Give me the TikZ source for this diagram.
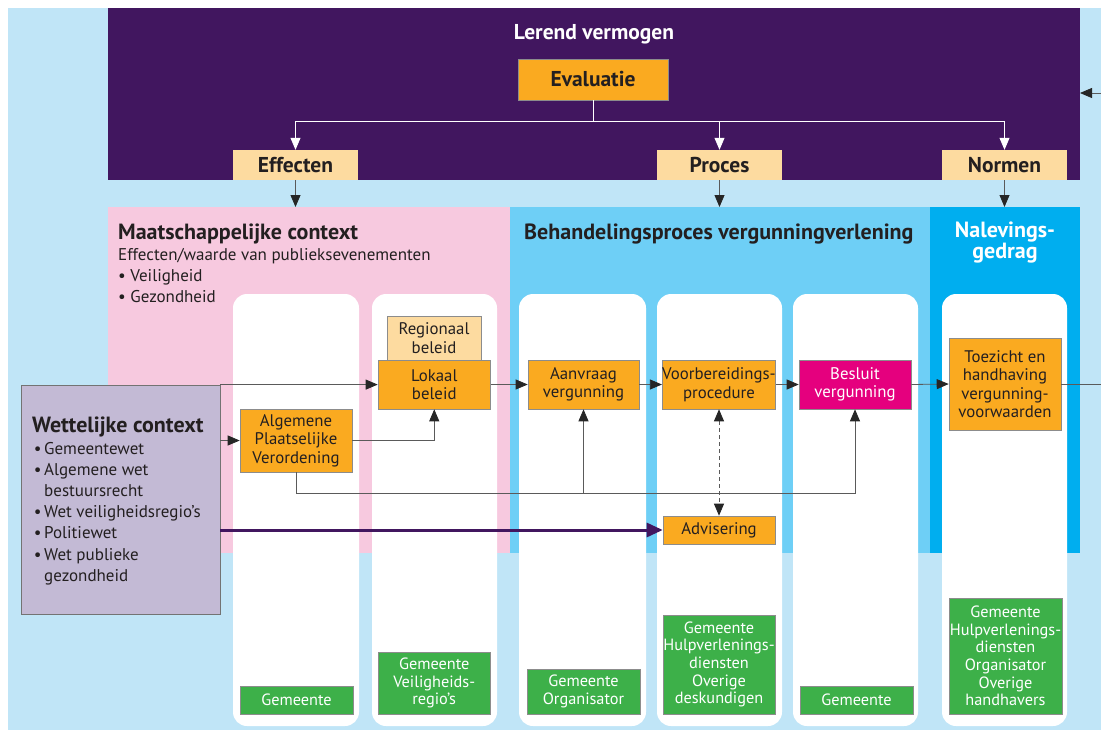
\documentclass[tikz,border=0pt]{standalone}
\usepackage{fontspec}
\setmainfont{PT Sans}
\usetikzlibrary{arrows.meta,calc}
\definecolor{bgblue}{RGB}{192,229,247}
\definecolor{purplec}{RGB}{65,22,95}
\definecolor{orangec}{RGB}{250,170,32}
\definecolor{peachc}{RGB}{253,219,160}
\definecolor{pinkc}{RGB}{247,201,223}
\definecolor{midblue}{RGB}{110,207,246}
\definecolor{brightblue}{RGB}{0,174,239}
\definecolor{lavc}{RGB}{195,186,213}
\definecolor{magc}{RGB}{229,0,126}
\definecolor{greenc}{RGB}{61,176,73}
\definecolor{textc}{RGB}{35,31,32}
\definecolor{linegray}{RGB}{90,90,90}
\tikzset{
  region/.style={inner sep=0pt, outer sep=0pt, anchor=north west},
  column/.style={fill=white, rounded corners=14pt},
  obox/.style={draw=black!45, line width=0.6pt, fill=orangec, text=textc, align=center, inner sep=0pt, font=\fontsize{16.8}{18.5}\selectfont},
  pbox/.style={fill=peachc, text=textc, align=center, inner sep=0pt, font=\bfseries\fontsize{21.5}{22}\selectfont},
  gbox/.style={draw=black!45, line width=0.6pt, fill=greenc, text=white, align=center, inner sep=0pt, font=\fontsize{16.3}{17.7}\selectfont},
  arr/.style={draw=linegray, line width=0.8pt, -{Triangle[length=12pt,width=10pt,color=black!85]}},
  darr/.style={draw=linegray, line width=0.8pt, dash pattern=on 4pt off 3pt, {Triangle[length=12pt,width=10pt,color=black!85]}-{Triangle[length=12pt,width=10pt,color=black!85]}},
  warr/.style={draw=white, line width=0.8pt, -{Triangle[length=12pt,width=10pt,color=white]}},
  parr/.style={draw=purplec, line width=3pt, -{Triangle[length=16pt,width=14pt,color=purplec]}},
  ttl/.style={anchor=base west, inner sep=0pt, text=textc, font=\bfseries\fontsize{22}{24}\selectfont},
  txt/.style={anchor=base west, inner sep=0pt, text=textc, font=\fontsize{17}{19}\selectfont},
  wtxt/.style={anchor=base, inner sep=0pt, text=white, font=\bfseries\fontsize{22}{24}\selectfont}
}
\begin{document}
\begin{tikzpicture}[x=1pt,y=-1pt]
\useasboundingbox (0,0) rectangle (1101,731);
\fill[white] (0,0) rectangle (1101,731);
\fill[bgblue] (8,8) rectangle (1101,730);

% regions
\node[region, fill=purplec, minimum width=972pt, minimum height=172pt] (lv) at (108,8) {};
\node[region, fill=pinkc, minimum width=402pt, minimum height=346pt] (maat) at (108,207) {};
\node[region, fill=midblue, minimum width=420pt, minimum height=346pt] (beh) at (510,207) {};
\node[region, fill=brightblue, minimum width=150pt, minimum height=346pt] (nal) at (930,207) {};

% white columns
\fill[column] (233,294) rectangle (359,726);
\fill[column] (372,294) rectangle (497,726);
\fill[column] (519,294) rectangle (646,726);
\fill[column] (657,294) rectangle (782,726);
\fill[column] (793,294) rectangle (918,726);
\fill[column] (942,294) rectangle (1067,726);

% top texts
\node[wtxt, font=\bfseries\fontsize{21.5}{24}\selectfont] (lvt) at (594,39) {Lerend vermogen};
\node[obox, minimum width=150pt, minimum height=41pt, font=\bfseries\fontsize{21.5}{24}\selectfont] (eval) at (593,79.5) {Evaluatie};
\node[pbox, minimum width=125pt, minimum height=30pt] (eff) at (295.5,165) {Effecten};
\node[pbox, minimum width=125pt, minimum height=30pt] (proc) at (719.5,165) {Proces};
\node[pbox, minimum width=125pt, minimum height=30pt] (norm) at (1004.5,165) {Normen};

% region titles
\node[ttl] (mt) at (118,239) {Maatschappelijke context};
\node[txt] (mt1) at (118,260) {Effecten/waarde van publieksevenementen};
\node[txt] (mt2) at (118,281) {• Veiligheid};
\node[txt] (mt3) at (118,302) {• Gezondheid};
\node[ttl] (bt) at (524,239) {Behandelingsproces vergunningverlening};
\node[wtxt] (nt1) at (1005,237) {Nalevings-};
\node[wtxt] (nt2) at (1005,258) {gedrag};

% wettelijke context
\node[draw=black!55, line width=0.8pt, fill=lavc, minimum width=199pt, minimum height=229pt, inner sep=0pt] (wet) at (120.5,499.5) {};
\node[ttl] (wt) at (32,432) {Wettelijke context};
\node[txt] (w1) at (31,454) {\makebox[13pt][c]{•}Gemeentewet};
\node[txt] (w2) at (31,475.2) {\makebox[13pt][c]{•}Algemene wet};
\node[txt] (w3) at (31,496.4) {\hspace*{13pt}bestuursrecht};
\node[txt] (w4) at (31,517.6) {\makebox[13pt][c]{•}Wet veiligheidsregio’s};
\node[txt] (w5) at (31,538.8) {\makebox[13pt][c]{•}Politiewet};
\node[txt] (w6) at (31,560) {\makebox[13pt][c]{•}Wet publieke};
\node[txt] (w7) at (31,581.2) {\hspace*{13pt}gezondheid};

% process boxes
\node[obox, fill=peachc, minimum width=94pt, minimum height=44pt] (reg) at (434,338) {Regionaal\\beleid};
\node[obox, minimum width=112.5pt, minimum height=49pt] (lok) at (434.25,384.5) {Lokaal\\beleid};
\node[obox, minimum width=112pt, minimum height=63pt] (apv) at (296,440.5) {Algemene\\Plaatselijke\\Verordening};
\node[obox, minimum width=111pt, minimum height=49pt] (aan) at (583.5,384.5) {Aanvraag\\vergunning};
\node[obox, minimum width=112pt, minimum height=49pt] (voor) at (719,384.5) {Voorbereidings-\\procedure};
\node[obox, fill=magc, text=white, minimum width=112pt, minimum height=49pt] (bes) at (855,384.5) {Besluit\\vergunning};
\node[obox, minimum width=112pt, minimum height=92pt] (toez) at (1005,384) {Toezicht en\\handhaving\\vergunning-\\voorwaarden};
\node[obox, minimum width=112pt, minimum height=28pt] (adv) at (719,530) {Advisering};

% green actor boxes
\node[gbox, minimum width=113pt, minimum height=28pt] (g1) at (296.5,700) {Gemeente};
\node[gbox, minimum width=112.5pt, minimum height=62pt] (g2) at (434.25,683) {Gemeente\\Veiligheids-\\regio’s};
\node[gbox, minimum width=113pt, minimum height=45pt] (g3) at (583.5,691.5) {Gemeente\\Organisator};
\node[gbox, minimum width=112pt, minimum height=99pt] (g4) at (719,664.5) {Gemeente\\Hulpverlenings-\\diensten\\Overige\\deskundigen};
\node[gbox, minimum width=113pt, minimum height=28pt] (g5) at (856.5,700) {Gemeente};
\node[gbox, minimum width=113pt, minimum height=116pt] (g6) at (1005.5,656) {Gemeente\\Hulpverlenings-\\diensten\\Organisator\\Overige\\handhavers};

% connectors: evaluation
\coordinate (ej) at (593,121);
\draw[warr] (eval.south) -- (ej) -| (eff.north);
\draw[warr] (ej) -| (proc.north);
\draw[warr] (ej) -| (norm.north);
\draw[arr] (eff.south) -- (eff.south |- maat.north);
\draw[arr] (proc.south) -- (proc.south |- beh.north);
\draw[arr] (norm.south) -- (norm.south |- nal.north);

% connectors: process
\draw[arr] (wet.north east) -- (wet.north east -| lok.west);
\draw[arr] (wet.east |- apv.west) -- (apv.west);
\draw[arr] (apv.east) -| (lok.south);
\coordinate (bl) at (0,493);
\draw[arr] (apv.south) -- (apv.south |- bl) -| (bes.south);
\draw[arr] (aan.south |- bl) -- (aan.south);
\draw[arr] (lok.east) -- (aan.west);
\draw[arr] (aan.east) -- (voor.west);
\draw[arr] (voor.east) -- (bes.west);
\draw[arr] (bes.east) -- (toez.west);
\draw[darr] (voor.south) -- (adv.north);
\draw[parr] (wet.east |- adv.west) -- (adv.west);

% feedback loop to the right edge
\coordinate (fb) at (1102,93);
\draw[arr] (toez.east) -| (fb) -- (fb -| lv.east);
\end{tikzpicture}
\end{document}
